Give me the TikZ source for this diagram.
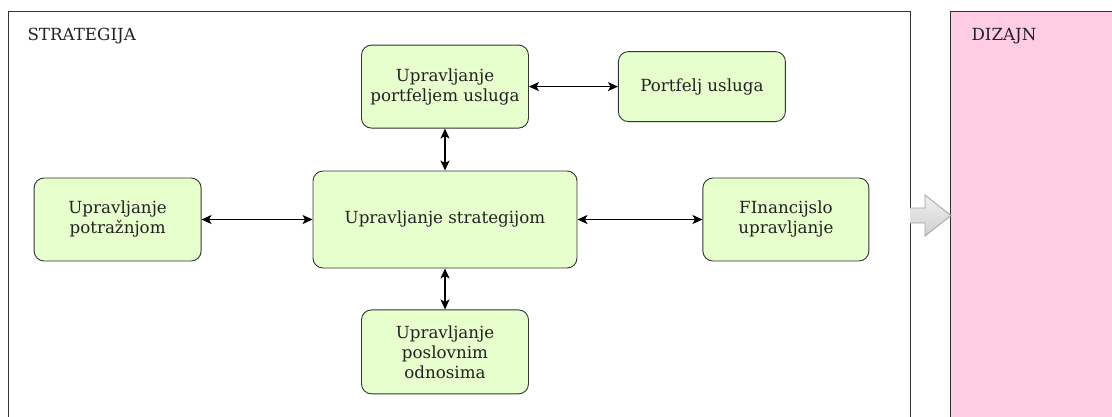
\documentclass[tikz,border=0pt]{standalone}
\usepackage{fontspec}
\setmainfont{DejaVu Serif}
\usepackage{xcolor}
\usepackage{tikz}
\definecolor{boxgreen}{RGB}{230, 255, 204}
\definecolor{designpink}{RGB}{255, 204, 230}
\definecolor{borderdark}{RGB}{51, 51, 51}
\definecolor{textdark}{RGB}{34, 34, 34}
\definecolor{arrowgray}{RGB}{160, 160, 160}
\usetikzlibrary{arrows.meta, positioning}

\begin{document}
\begin{tikzpicture}[
        x=1pt, y=-1pt,
        node distance=40pt,
        every node/.style={font=\fontsize{16.7}{20}\selectfont, text=textdark},
        process/.style={rectangle, rounded corners=10pt, minimum width=167pt, minimum height=83pt, align=center, draw=borderdark, fill=boxgreen, line width=0.9pt},
        frame/.style={rectangle, draw=borderdark, line width=0.9pt, anchor=north west},
        arrow/.style={line width=1.4pt, {Stealth[length=10pt, width=9pt, inset=2.5pt]}-{Stealth[length=10pt, width=9pt, inset=2.5pt]}, color=black}
    ]
        \useasboundingbox (0,0) rectangle (1112,416);

        \node[frame, minimum width=902pt, minimum height=430pt] (strategyframe) at (8,11) {};
        \node[frame, fill=designpink, minimum width=200pt, minimum height=430pt] (designframe) at (950,11) {};
        \node[anchor=base west] (strategytitle) at (24,40) {STRATEGIJA};
        \node[anchor=base west] (designtitle) at (968,40) {DIZAJN};

        \node[process, minimum width=264pt, minimum height=97pt] (strategy) at (445,219.5) {Upravljanje strategijom};
        \node[process, above=42pt of strategy] (portfolioman) {Upravljanje\\portfeljem usluga};
        \node[process, right=89pt of portfolioman, minimum height=70pt] (portfolio) {Portfelj usluga};
        \node[process, left=111pt of strategy] (demand) {Upravljanje\\potražnjom};
        \node[process, right=125pt of strategy, minimum width=166pt] (finance) {FInancijslo\\upravljanje};
        \node[process, below=41pt of strategy, minimum height=84pt] (relations) {Upravljanje\\poslovnim\\odnosima};

        \draw[arrow] (portfolioman) -- (portfolio);
        \draw[arrow] (portfolioman) -- (strategy);
        \draw[arrow] (demand) -- (strategy);
        \draw[arrow] (strategy) -- (finance);
        \draw[arrow] (strategy) -- (relations);

        % flow to design
        \path[draw=arrowgray, line width=0.8pt, top color=gray!12, bottom color=gray!38]
            (910,208) -- (925,208) -- (925,195) -- (951,215.5) -- (925,236) -- (925,223) -- (910,223);

    \end{tikzpicture}
\end{document}
